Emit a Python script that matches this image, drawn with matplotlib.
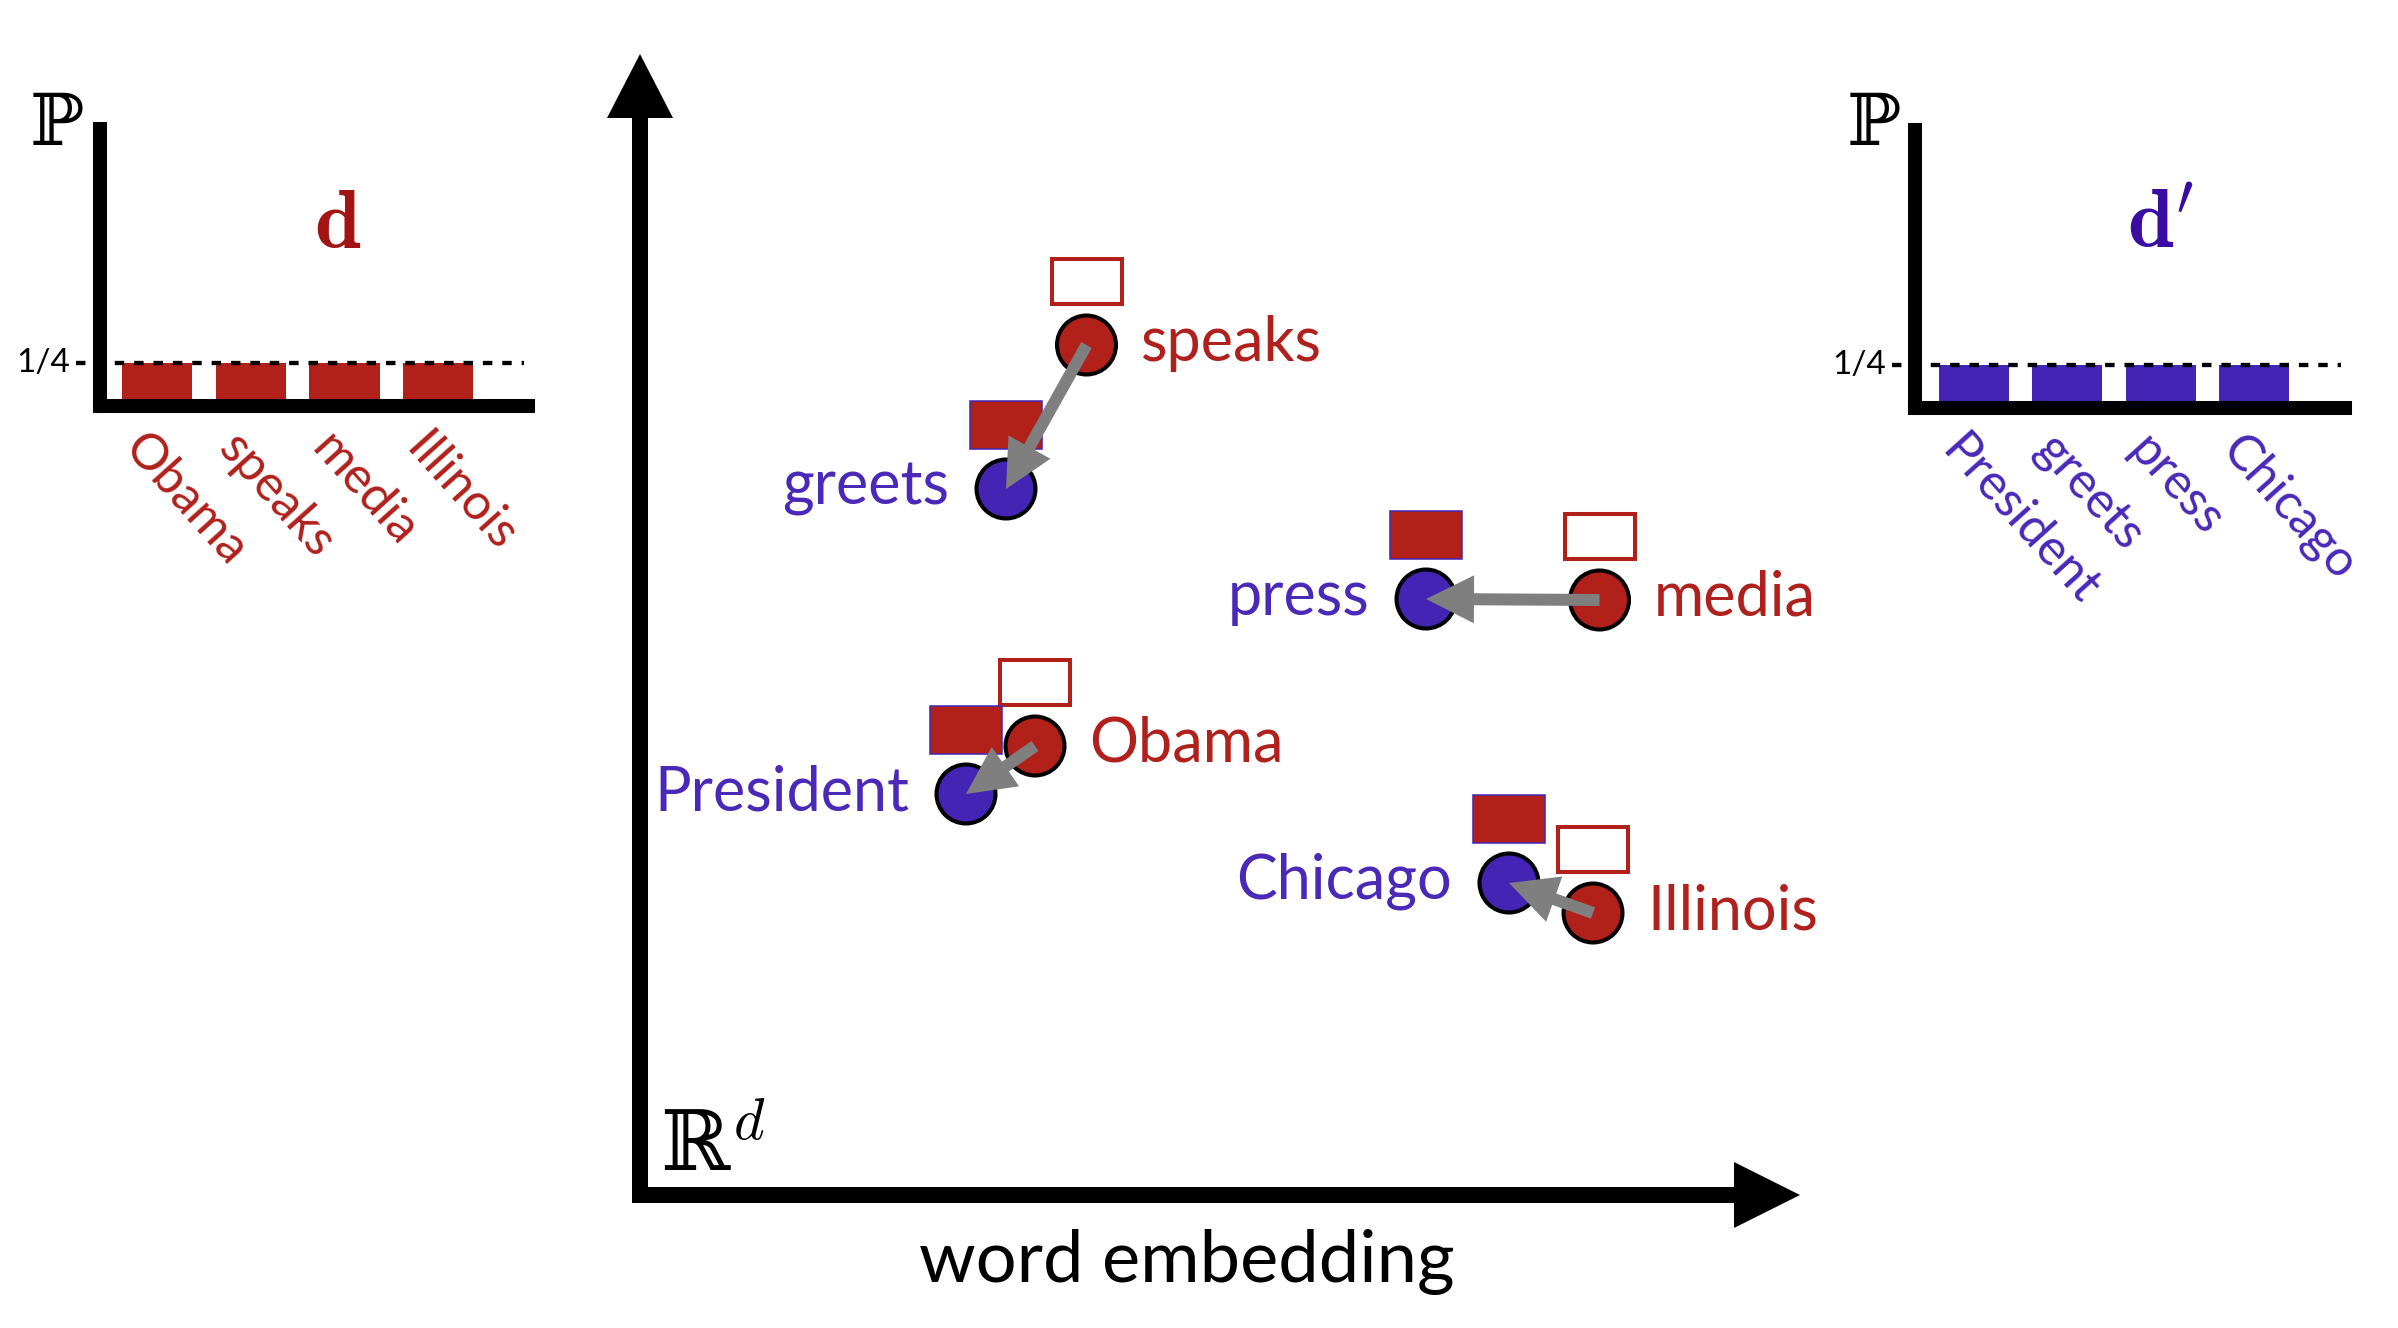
import numpy as np
import matplotlib
matplotlib.use("Agg")
import matplotlib.pyplot as plt
from matplotlib.patches import Circle, Rectangle

plt.rcParams['font.family'] = ['Lato', 'DejaVu Sans']

# histogram d (source document) and d' (target document)
d_words = ['Obama', 'speaks', 'media', 'Illinois']
d_probs = [0.25, 0.25, 0.25, 0.25]
d2_words = ['President', 'greets', 'press', 'Chicago']
d2_probs = [0.25, 0.25, 0.25, 0.25]

# word embedding positions (source word -> target word)
src_words = ['speaks', 'media', 'Obama', 'Illinois']
src_x = [4.465, 9.595, 3.95, 9.53]
src_y = [8.50, 5.95, 4.49, 2.82]
dst_words = ['greets', 'press', 'President', 'Chicago']
dst_x = [3.66, 7.86, 3.26, 8.69]
dst_y = [7.06, 5.96, 4.01, 3.12]

RED = '#b2201a'
RED_TXT = '#b0201c'
RED_TITLE = '#a31515'
BLUE = '#4424b4'
BLUE_TXT = '#4a28b8'
BLUE_TITLE = '#3a0ca3'
GREY = '#7f7f7f'
SERIF = ['DejaVu Serif', 'DejaVu Sans']

W, H = 2398, 1328
fig = plt.figure(figsize=(W / 100, H / 100), dpi=100)


def box(left, top, right, bottom):
    return [left / W, 1 - bottom / H, (right - left) / W, (bottom - top) / H]


def px(x, y):
    return x / W, 1 - y / H


def bar_panel(rect, xlim, words, probs, bar_color, text_color):
    ax = fig.add_axes(rect)
    x = np.arange(len(words))
    ax.bar(x, probs, width=0.75, color=bar_color, zorder=1)
    ax.set_xlim(*xlim)
    ax.set_ylim(0, 1.6)
    for s in ['top', 'right']:
        ax.spines[s].set_visible(False)
    for s in ['left', 'bottom']:
        ax.spines[s].set_linewidth(10.1)
        ax.spines[s].set_capstyle('projecting')
    ax.set_xticks([])
    ax.set_yticks([])
    ax.set_facecolor('none')
    ax.plot([xlim[0] - 0.25, xlim[1] - 0.04], [0.25, 0.25], color='black',
            lw=3.1, linestyle=(0, (2.2, 2.3)), zorder=3, clip_on=False)
    ax.text(xlim[0] - 0.31, 0.25, '1/4', fontsize=24, ha='right', va='center')
    for xi, w in zip(x, words):
        ax.text(xi - 0.08, -0.11, w, color=text_color, fontsize=36,
                rotation=-48, rotation_mode='anchor', ha='left', va='top',
                clip_on=False)
    return ax


bar_panel(box(99.5, 129, 528, 406), (-0.614, 3.96), d_words, d_probs, RED, RED_TXT)
bar_panel(box(1915, 130, 2345, 408), (-0.63, 3.97), d2_words, d2_probs, BLUE, BLUE_TXT)

fig.text(*px(57, 145), 'ℙ', fontsize=52, family=SERIF, ha='center', va='baseline')
fig.text(*px(1874, 145), 'ℙ', fontsize=52, family=SERIF, ha='center', va='baseline')
fig.text(*px(314, 248), r'$\mathbf{d}$', fontsize=60, math_fontfamily='cm',
         color=RED_TITLE, ha='left', va='baseline')
fig.text(*px(2127, 248), r"$\mathbf{d}'$", fontsize=60, math_fontfamily='cm',
         color=BLUE_TITLE, ha='left', va='baseline')

# embedding space
axm = fig.add_axes(box(620, 40, 1830, 1215))
axm.set_xlim(-0.2, 11.9)
axm.set_ylim(-0.2, 11.55)
axm.axis('off')

axm.arrow(0, -0.08, 0, 11.49, width=0.16, head_width=0.66, head_length=0.64,
          length_includes_head=True, fc='black', ec='none', clip_on=False)
axm.arrow(-0.08, 0, 11.68, 0, width=0.16, head_width=0.66, head_length=0.66,
          length_includes_head=True, fc='black', ec='none', clip_on=False)
axm.text(0.2, 0.23, 'ℝ$^{d}$', fontsize=60, family=SERIF, math_fontfamily='cm',
         ha='left', va='baseline')
fig.text(*px(1187, 1282), 'word embedding', fontsize=52, ha='center', va='baseline')

for sw, sx, sy, dw, dx, dy in zip(src_words, src_x, src_y, dst_words, dst_x, dst_y):
    axm.add_patch(Rectangle((sx - 0.35, sy + 0.64 - 0.225), 0.70, 0.45,
                            fc='white', ec=RED, lw=2.9, zorder=2))
    axm.add_patch(Rectangle((dx - 0.3625, dy + 0.64 - 0.2375), 0.725, 0.475,
                            fc=RED, ec=BLUE, lw=1.1, zorder=2))
    axm.add_patch(Circle((sx, sy), 0.295, fc=RED, ec='black', lw=2.9, zorder=3))
    axm.add_patch(Circle((dx, dy), 0.295, fc=BLUE, ec='black', lw=2.9, zorder=3))
    axm.arrow(sx, sy, dx - sx, dy - sy, width=0.12, head_width=0.48,
              head_length=0.48, length_includes_head=True, fc=GREY, ec='none',
              zorder=4)
    axm.text(sx + 0.54, sy - 0.16, sw, color=RED_TXT, fontsize=44,
             ha='left', va='baseline')
    axm.text(dx - 0.57, dy - 0.16, dw, color=BLUE_TXT, fontsize=44,
             ha='right', va='baseline')

fig.savefig('out.png', dpi=100)
